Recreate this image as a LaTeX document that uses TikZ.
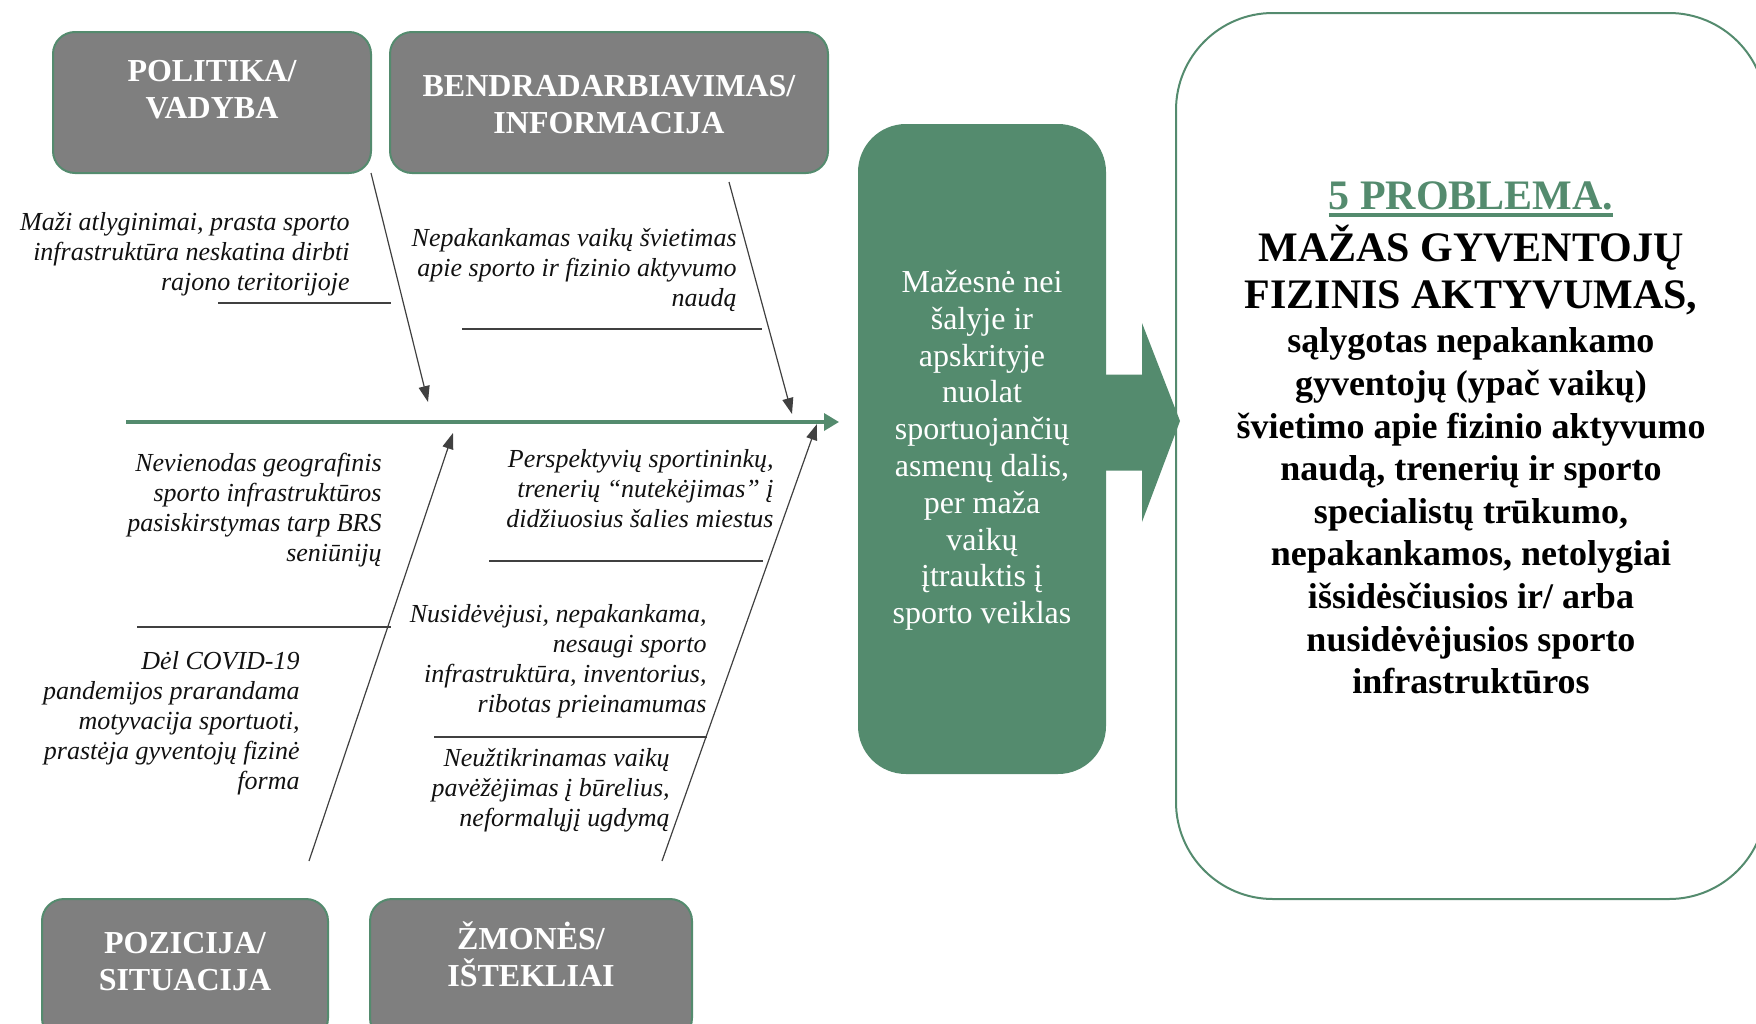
\documentclass[tikz,border=0pt]{standalone}
\usepackage{fontspec}
\setmainfont{Liberation Serif}
\usepackage{xcolor}
\usepackage{tikz}
\usetikzlibrary{arrows.meta}
\definecolor{fish}{HTML}{548B6E}
\definecolor{catgray}{HTML}{7F7F7F}
\definecolor{bonegray}{HTML}{404040}
\definecolor{ink}{HTML}{111111}
\newcommand{\thickul}[1]{\vtop{\hbox{#1}\kern1.5pt\hrule height 2pt}}
\tikzset{
  catbox/.style={draw=fish, fill=catgray, line width=1pt, rounded corners=11pt, inner sep=0pt, minimum height=70.5pt},
  cattxt/.style={text=white, align=center, inner sep=0pt, font=\fontsize{16}{18.5}\selectfont\bfseries},
  cause/.style={text=ink, align=right, anchor=east, inner sep=0pt, font=\fontsize{13}{15}\selectfont\itshape},
  bone/.style={draw=bonegray, line width=0.6pt, -{Triangle[length=8pt,width=5.5pt]}},
  tick/.style={draw=bonegray, line width=0.6pt},
  spine/.style={draw=fish, line width=1.7pt, -{Triangle[length=7.5pt,width=8.5pt]}},
  midbox/.style={fill=fish, rounded corners=24pt, minimum width=124pt, minimum height=325pt, inner sep=0pt, text=white, align=center, font=\fontsize{16}{18.4}\selectfont},
  probbox/.style={draw=fish, line width=1pt, rounded corners=48.5pt, minimum width=295pt, minimum height=443pt, inner sep=0pt},
  probtxt/.style={text=black, align=center, inner sep=0pt, font=\fontsize{18}{21.3}\selectfont\bfseries},
}

\begin{document}
\begin{tikzpicture}[x=0.5pt, y=-0.5pt]
  \useasboundingbox (0,0) rectangle (1756,1023);

  \node[catbox, minimum width=159pt] (pol) at (212,102.5) {};
  \node[catbox, minimum width=219pt] (ben) at (609,102.5) {};
  \node[catbox, minimum width=143pt] (poz) at (185,969.5) {};
  \node[catbox, minimum width=161pt] (zmo) at (531,969.5) {};
  \node[cattxt] (polt) at (212,89.5) {POLITIKA/\\VADYBA};
  \node[cattxt] (bent) at (609,105) {BENDRADARBIAVIMAS/\\INFORMACIJA};
  \node[cattxt] (pozt) at (185,962) {POZICIJA/\\SITUACIJA};
  \node[cattxt] (zmot) at (531,954) {ŽMONĖS/\\IŠTEKLIAI};

  \coordinate (tail) at (126,422);
  \coordinate (head) at (839,422);
  \draw[spine] (tail) -- (head);

  \coordinate (b1s) at (371,173);
  \coordinate (b1e) at (428,402);
  \coordinate (b2s) at (729,182);
  \coordinate (b2e) at (792,414);
  \coordinate (b3s) at (309,861);
  \coordinate (b3e) at (453,433);
  \coordinate (b4s) at (662,861);
  \coordinate (b4e) at (817,424);
  \draw[bone] (b1s) -- (b1e);
  \draw[bone] (b2s) -- (b2e);
  \draw[bone] (b3s) -- (b3e);
  \draw[bone] (b4s) -- (b4e);

  \coordinate (h1a) at (218,303);
  \coordinate (h1b) at (391,303);
  \coordinate (h2a) at (462,329);
  \coordinate (h2b) at (762,329);
  \coordinate (h3a) at (137,627);
  \coordinate (h3b) at (391,627);
  \coordinate (h4a) at (489,561);
  \coordinate (h4b) at (763,561);
  \coordinate (h5a) at (434,737);
  \coordinate (h5b) at (707,737);
  \draw[tick] (h1a) -- (h1b);
  \draw[tick] (h2a) -- (h2b);
  \draw[tick] (h3a) -- (h3b);
  \draw[tick] (h4a) -- (h4b);
  \draw[tick] (h5a) -- (h5b);

  \node[cause] (c1) at (350,254) {Maži atlyginimai, prasta sporto\\infrastruktūra neskatina dirbti\\rajono teritorijoje};
  \node[cause] (c2) at (737,270) {Nepakankamas vaikų švietimas\\apie sporto ir fizinio aktyvumo\\naudą};
  \node[cause] (c3) at (382,510) {Nevienodas geografinis\\sporto infrastruktūros\\pasiskirstymas tarp BRS\\seniūnijų};
  \node[cause] (c4) at (300,723) {Dėl COVID-19\\pandemijos prarandama\\motyvacija sportuoti,\\prastėja gyventojų fizinė\\forma};
  \node[cause] (c5) at (774,489) {Perspektyvių sportininkų,\\trenerių “nutekėjimas” į\\didžiuosius šalies miestus};
  \node[cause] (c6) at (707,661) {Nusidėvėjusi, nepakankama,\\nesaugi sporto\\infrastruktūra, inventorius,\\ribotas prieinamumas};
  \node[cause] (c7) at (670,790) {Neužtikrinamas vaikų\\pavėžėjimas į būrelius,\\neformalųjį ugdymą};

  \node[midbox] (mid) at (982,449) {\\[-6pt]Mažesnė nei\\šalyje ir\\apskrityje\\nuolat\\sportuojančių\\asmenų dalis,\\per maža\\vaikų\\įtrauktis į\\sporto veiklas};
  \fill[fish] (1106,374.5) -- (1142,374.5) -- (1142,323) -- (1180,421) -- (1142,522) -- (1142,470.5) -- (1106,470.5) -- cycle;

  \node[probbox] (prob) at (1471,456) {};
  \node[probtxt] (probt) at (1471,438) {{\fontsize{21}{24}\selectfont\color{fish}\thickul{5 PROBLEMA.}}\\[2.7pt]
    {\fontsize{21}{24}\selectfont MAŽAS GYVENTOJŲ}\\[2.5pt]
    {\fontsize{21}{24}\selectfont FIZINIS AKTYVUMAS,}\\[0.7pt]
    sąlygotas nepakankamo\\gyventojų (ypač vaikų)\\švietimo apie fizinio aktyvumo\\naudą, trenerių ir sporto\\specialistų trūkumo,\\nepakankamos, netolygiai\\išsidėsčiusios ir/ arba\\nusidėvėjusios sporto\\infrastruktūros};
\end{tikzpicture}
\end{document}
